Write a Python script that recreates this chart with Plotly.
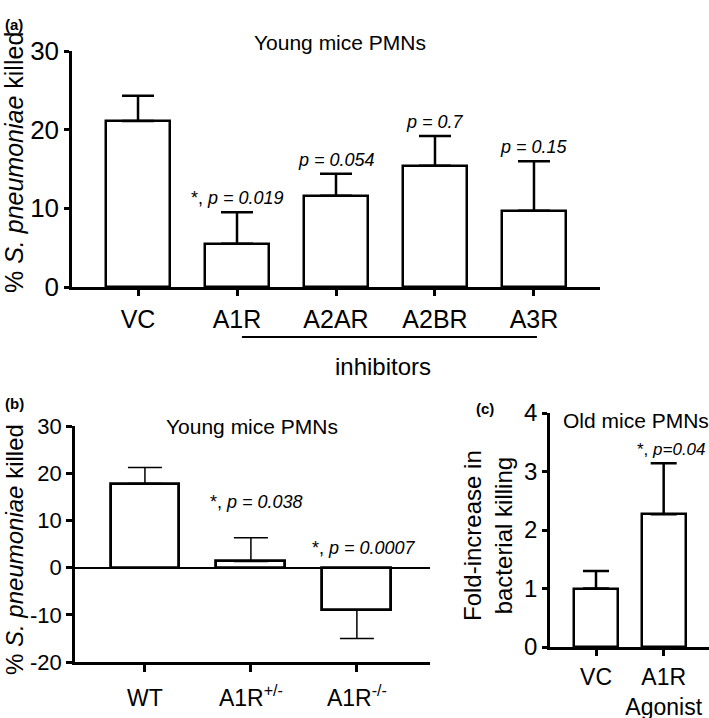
import plotly.graph_objects as go

W, H = 709, 718
FONT = "Liberation Sans, Arial, sans-serif"

# ---- data -------------------------------------------------------------------
# (a) young mice PMNs, adenosine receptor inhibitors
cat_a = ["VC", "A1R", "A2AR", "A2BR", "A3R"]
val_a = [21.1, 5.5, 11.6, 15.4, 9.7]
err_a = [3.2, 4.0, 2.8, 3.8, 6.3]
p_a = ["", "*, <i>p = 0.019</i>", "<i>p = 0.054</i>", "<i>p = 0.7</i>", "<i>p = 0.15</i>"]

# (b) young mice PMNs, A1R genotype
cat_b = ["WT", "A1R<sup>+/-</sup>", "A1R<sup>-/-</sup>"]
val_b = [17.8, 1.3, -9.0]
err_b = [3.4, 5.0, 6.0]
p_b = ["", "*, <i>p = 0.038</i>", "*, <i>p = 0.0007</i>"]
ticks_b = [-20, -10, 0, 10, 20, 30]
ticktext_b = ["-20", "-10", "0", "10", "20", "30"]

# (c) old mice PMNs, A1R agonist
cat_c = ["VC", "A1R<br>Agonist"]
val_c = [1.0, 2.27]
err_c = [0.3, 0.87]
p_c = ["", "*, <i>p=0.04</i>"]


def px(x):
    return x / W


def py(y):
    return 1 - y / H


fig = go.Figure()

# bars ------------------------------------------------------------------------
fig.add_trace(go.Bar(
    x=cat_a, y=val_a, width=0.65, xaxis="x", yaxis="y",
    marker=dict(color="white", line=dict(color="black", width=2.5)),
    error_y=dict(type="data", symmetric=False, array=err_a, arrayminus=[0] * len(err_a),
                 color="black", thickness=2.5, width=16),
))

fig.add_trace(go.Bar(
    x=cat_b, y=val_b, width=0.65, xaxis="x2", yaxis="y2",
    marker=dict(color="white", line=dict(color="black", width=2.8)),
    error_y=dict(type="data", symmetric=False,
                 array=[e if v >= 0 else 0 for v, e in zip(val_b, err_b)],
                 arrayminus=[0 if v >= 0 else e for v, e in zip(val_b, err_b)],
                 color="black", thickness=1.5, width=17),
))

fig.add_trace(go.Bar(
    x=cat_c, y=val_c, width=0.65, xaxis="x3", yaxis="y3",
    marker=dict(color="white", line=dict(color="black", width=2.5)),
    error_y=dict(type="data", symmetric=False, array=err_c, arrayminus=[0] * len(err_c),
                 color="black", thickness=2.5, width=13),
))

# axes ------------------------------------------------------------------------
ax_common = dict(showline=True, linecolor="black", showgrid=False,
                 ticks="outside", tickcolor="black", fixedrange=True, automargin=False)

fig.update_layout(
    xaxis=dict(domain=[px(72), px(600)], anchor="y", type="category", range=[-0.667, 4.667],
               linewidth=2.5, tickwidth=2.5, ticklen=6, tickfont=dict(size=25),
               ticklabelstandoff=2, zeroline=False, **ax_common),
    yaxis=dict(domain=[py(287), py(51)], anchor="x", range=[0, 30], dtick=10,
               linewidth=2.5, tickwidth=2.5, ticklen=5, tickfont=dict(size=26),
               zeroline=False, **ax_common),
    xaxis2=dict(domain=[px(75), px(430)], anchor="y2", type="category", range=[-0.66, 2.69],
                linewidth=2.8, tickwidth=2.8, ticklen=7, tickfont=dict(size=23),
                ticklabelstandoff=6, zeroline=False, **ax_common),
    yaxis2=dict(domain=[py(662), py(426)], anchor="x2", range=[-20, 30],
                tickvals=ticks_b, ticktext=ticktext_b,
                linewidth=2.8, tickwidth=2.5, ticklen=6, tickfont=dict(size=22),
                zeroline=True, zerolinecolor="black", zerolinewidth=1.6, **ax_common),
    xaxis3=dict(domain=[px(550), 1.0], anchor="y3", type="category", range=[-0.68, 1.67],
                linewidth=2.5, tickwidth=2.5, ticklen=6, tickfont=dict(size=23),
                ticklabelstandoff=2, zeroline=False, **ax_common),
    yaxis3=dict(domain=[py(647), py(413)], anchor="x3", range=[0, 4], dtick=1,
                linewidth=2.5, tickwidth=2.5, ticklen=5, tickfont=dict(size=24),
                zeroline=False, **ax_common),
)

# annotations -----------------------------------------------------------------
ann = []
base = dict(showarrow=False, xanchor="center", yanchor="middle")

# p values
for i, t in enumerate(p_a):
    if t:
        ann.append(dict(base, x=i, y=val_a[i] + err_a[i], xref="x", yref="y", text=t,
                        yanchor="bottom", yshift=2, font=dict(size=18)))
p_b_y = [0, 13.8, 4.2]
p_b_shift = [0, 6, 7]
for i, t in enumerate(p_b):
    if t:
        ann.append(dict(base, x=i, y=p_b_y[i], xref="x2", yref="y2", text=t,
                        xshift=p_b_shift[i], font=dict(size=18)))
for i, t in enumerate(p_c):
    if t:
        ann.append(dict(base, x=i, y=val_c[i] + err_c[i], xref="x3", yref="y3", text=t,
                        xshift=8, yanchor="bottom", yshift=2, font=dict(size=17)))

# titles inside panels
ann.append(dict(base, x=px(340), y=py(43), xref="paper", yref="paper",
                text="Young mice PMNs", font=dict(size=21)))
ann.append(dict(base, x=px(252), y=py(426), xref="paper", yref="paper",
                text="Young mice PMNs", font=dict(size=21)))
ann.append(dict(base, x=px(561), y=py(420), xref="paper", yref="paper",
                text="Old mice PMNs", xanchor="left", font=dict(size=21)))

# y axis titles
ylab = "% <i>S. pneumoniae</i> killed"
ann.append(dict(base, x=px(14), y=py(163), xref="paper", yref="paper", text=ylab,
                textangle=-90, font=dict(size=25)))
ann.append(dict(base, x=px(14), y=py(550), xref="paper", yref="paper", text=ylab,
                textangle=-90, font=dict(size=24)))
ann.append(dict(base, x=px(488), y=py(536), xref="paper", yref="paper",
                text="Fold-increase in<br>bacterial killing", textangle=-90,
                font=dict(size=24)))

# "inhibitors" group label
ann.append(dict(base, x=px(383), y=py(366), xref="paper", yref="paper",
                text="inhibitors", font=dict(size=24)))

# panel letters
for lbl, x0, y0 in [("(a)", 14, 24), ("(b)", 14, 403), ("(c)", 485, 408)]:
    ann.append(dict(base, x=px(x0), y=py(y0), xref="paper", yref="paper",
                    text=f"<b>{lbl}</b>", font=dict(size=15)))

fig.update_layout(
    annotations=ann,
    shapes=[dict(type="line", xref="x", yref="paper", x0=1.05, x1=4.03, y0=py(337), y1=py(337),
                 line=dict(color="black", width=2))],
    width=W, height=H, autosize=False,
    margin=dict(l=0, r=0, t=0, b=0),
    paper_bgcolor="white", plot_bgcolor="white",
    showlegend=False, bargap=0,
    font=dict(family=FONT, color="black"),
)

# the page body has a default 8px margin; drop it so the figure fills the window
fig.write_html("out.html", config={"displayModeBar": False},
               post_script="document.body.style.margin = '0';")
